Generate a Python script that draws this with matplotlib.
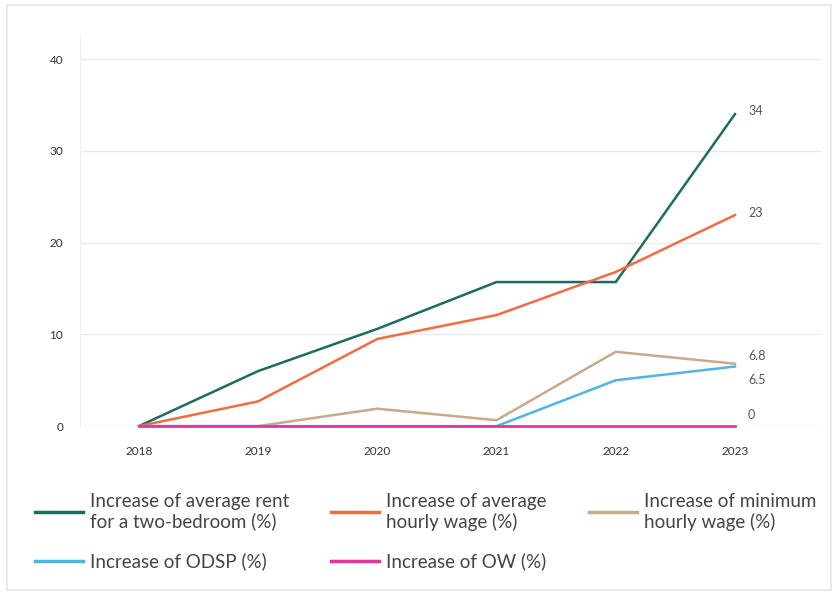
import matplotlib.pyplot as plt
from matplotlib.patches import Rectangle

years = [2018, 2019, 2020, 2021, 2022, 2023]
rent = [0, 6.0, 10.6, 15.7, 15.7, 34]
wage = [0, 2.7, 9.5, 12.1, 16.8, 23]
min_wage = [0, 0, 1.9, 0.65, 8.1, 6.8]
odsp = [0, 0, 0, 0, 5.0, 6.5]
ow = [0, 0, 0, 0, 0, 0]
end_labels = ["34", "23", "6.8", "6.5", "0"]
end_label_y = [34.3, 23.2, 7.6, 5.0, 1.2]

plt.rcParams['font.family'] = ['Lato', 'DejaVu Sans']

fig = plt.figure(figsize=(8.32, 5.96), dpi=100)
ax = fig.add_axes([0.096, 0.285, 0.892, 0.656])

# outer frame
fig.patches.append(Rectangle((0.009, 0.01), 0.99, 0.982, transform=fig.transFigure,
                             fill=False, edgecolor='#e6e6e6', lw=1.2))

l_rent, = ax.plot(years, rent, color='#1e6b5f', lw=1.8)
l_wage, = ax.plot(years, wage, color='#f26b43', lw=1.8)
l_min, = ax.plot(years, min_wage, color='#c9a98b', lw=1.8)
l_odsp, = ax.plot(years, odsp, color='#4db6e4', lw=1.8)
l_ow, = ax.plot(years, ow, color='#e2369d', lw=2, clip_on=False, zorder=5)

for txt, yv in zip(end_labels, end_label_y):
    ax.text(2023.11, yv, txt, fontsize=9, color='#555555', va='center', ha='left')

ax.set_xlim(2017.505, 2023.73)
ax.set_ylim(0, 42.6)
ax.set_xticks(years)
ax.set_yticks([0, 10, 20, 30, 40])
ax.tick_params(length=0, labelsize=8.5, colors='#333333')
ax.tick_params(axis='x', pad=14)
ax.tick_params(axis='y', pad=12)
ax.grid(axis='y', color='#ebebeb', lw=1)
ax.set_axisbelow(True)
for s in ['top', 'right', 'bottom']:
    ax.spines[s].set_visible(False)
ax.spines['left'].set_color('#eeeeee')

handles = [l_rent, l_odsp, l_wage, l_ow, l_min]
labels = ["Increase of average rent\nfor a two-bedroom (%)", "Increase of ODSP (%)",
          "Increase of average\nhourly wage (%)", "Increase of OW (%)",
          "Increase of minimum\nhourly wage (%)"]
leg = fig.legend(handles, labels, ncol=3, loc='upper left', bbox_to_anchor=(0.033, 0.186),
                 frameon=False, fontsize=13.5, handlelength=2.55, handletextpad=0.38,
                 columnspacing=2.25, labelspacing=1.15, borderaxespad=0)
for t in leg.get_texts():
    t.set_color('#444444')
for h in leg.get_lines():
    h.set_linewidth(2.5)

fig.savefig('out.png', dpi=100)
